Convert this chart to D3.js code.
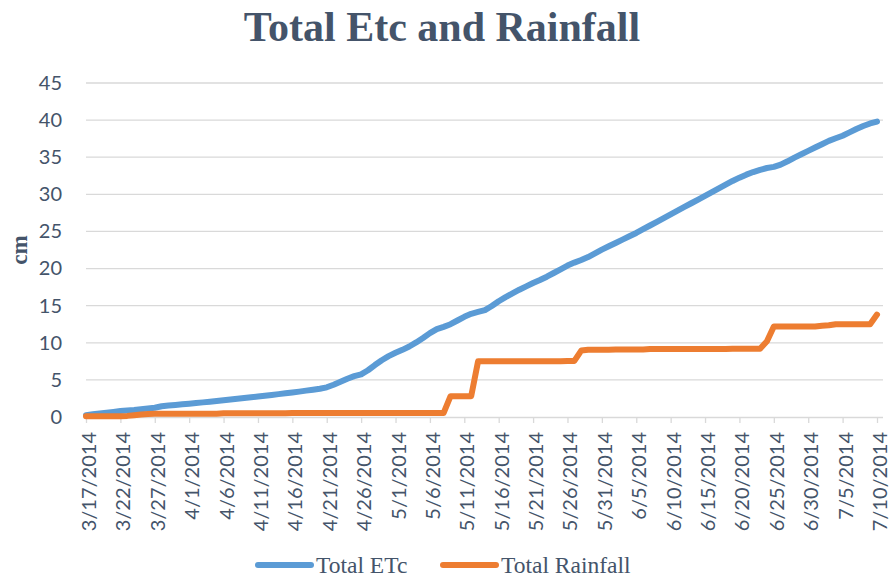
<!DOCTYPE html>
<html>
<head>
<meta charset="utf-8">
<script src="https://cdn.jsdelivr.net/npm/d3@7/dist/d3.min.js"></script>
<style>
  html, body { margin: 0; padding: 0; background: #fff; }
  svg { display: block; }
</style>
</head>
<body>
<svg id="chart" width="891" height="580"></svg>
<script>
// Daily cumulative values (cm), starting 3/17/2014
const startDate = "2014-03-17";
const etc = [
  0.25, 0.36, 0.47, 0.58, 0.69, 0.80, 0.88, 0.95, 1.05, 1.15,
  1.25, 1.45, 1.55, 1.63, 1.72, 1.80, 1.88, 1.97, 2.06, 2.15,
  2.25, 2.35, 2.45, 2.55, 2.65, 2.75, 2.86, 2.97, 3.08, 3.19,
  3.30, 3.42, 3.55, 3.68, 3.80, 4.00, 4.35, 4.75, 5.15, 5.50,
  5.75, 6.30, 7.00, 7.65, 8.20, 8.65, 9.05, 9.50, 10.05, 10.65,
  11.30, 11.85, 12.15, 12.50, 13.00, 13.50, 13.90, 14.15, 14.40, 14.95,
  15.60, 16.15, 16.65, 17.15, 17.60, 18.05, 18.45, 18.90, 19.40, 19.90,
  20.40, 20.80, 21.15, 21.55, 22.05, 22.55, 23.00, 23.45, 23.90, 24.35,
  24.80, 25.30, 25.80, 26.30, 26.80, 27.30, 27.80, 28.30, 28.80, 29.30,
  29.80, 30.30, 30.80, 31.30, 31.80, 32.25, 32.65, 33.00, 33.30, 33.55,
  33.70, 34.00, 34.45, 34.95, 35.40, 35.85, 36.30, 36.75, 37.20, 37.55,
  37.90, 38.35, 38.80, 39.20, 39.55, 39.80
];
const rainfall = [
  0.10, 0.10, 0.10, 0.10, 0.10, 0.10, 0.15, 0.25, 0.35, 0.40,
  0.45, 0.45, 0.45, 0.45, 0.45, 0.45, 0.45, 0.45, 0.45, 0.45,
  0.50, 0.50, 0.50, 0.50, 0.50, 0.50, 0.50, 0.50, 0.50, 0.50,
  0.55, 0.55, 0.55, 0.55, 0.55, 0.55, 0.55, 0.55, 0.55, 0.55,
  0.55, 0.55, 0.55, 0.55, 0.55, 0.55, 0.55, 0.55, 0.55, 0.55,
  0.55, 0.55, 0.55, 2.80, 2.80, 2.80, 2.80, 7.50, 7.50, 7.50,
  7.50, 7.50, 7.50, 7.50, 7.50, 7.50, 7.50, 7.50, 7.50, 7.50,
  7.55, 7.55, 8.95, 9.05, 9.05, 9.05, 9.05, 9.10, 9.10, 9.10,
  9.10, 9.10, 9.15, 9.15, 9.15, 9.15, 9.15, 9.15, 9.15, 9.15,
  9.15, 9.15, 9.15, 9.15, 9.20, 9.20, 9.20, 9.20, 9.20, 10.20,
  12.20, 12.20, 12.20, 12.20, 12.20, 12.20, 12.20, 12.30, 12.35, 12.50,
  12.50, 12.50, 12.50, 12.50, 12.50, 13.80
];
const yTicks = [0, 5, 10, 15, 20, 25, 30, 35, 40, 45];
const tickEvery = 5; // a date label every 5 days
const seriesNames = ["Total ETc", "Total Rainfall"];
const seriesColors = ["#5B9BD5", "#ED7D31"];

const parse = d3.timeParse("%Y-%m-%d");
const t0 = parse(startDate);
const dates = etc.map((_, i) => d3.timeDay.offset(t0, i));

const svg = d3.select("#chart");
svg.append("rect").attr("width", 891).attr("height", 580).attr("fill", "#fff");

const plotLeft = 86, lastX = 877, plotRight = 883, plotTop = 83, plotBottom = 417;

const x = d3.scaleTime().domain([dates[0], dates[dates.length - 1]]).range([plotLeft, lastX]);
const y = d3.scaleLinear().domain([0, 45]).range([plotBottom, plotTop]);

const textColor = "#44546A";
const gridColor = "#D9D9D9";

// Title
svg.append("text")
  .attr("x", 442).attr("y", 41)
  .attr("text-anchor", "middle")
  .attr("font-family", "'Liberation Serif', 'Times New Roman', serif")
  .attr("font-weight", "bold")
  .attr("font-size", 42)
  .attr("fill", textColor)
  .text("Total Etc and Rainfall");

// Horizontal gridlines
svg.append("g")
  .selectAll("line")
  .data(yTicks.filter(v => v > 0))
  .join("line")
  .attr("x1", plotLeft).attr("x2", plotRight)
  .attr("y1", d => y(d)).attr("y2", d => y(d))
  .attr("stroke", gridColor).attr("stroke-width", 1.3);

// Y axis labels
const yAxis = d3.axisLeft(y).tickValues(yTicks).tickSize(0).tickPadding(0);
const gy = svg.append("g").attr("transform", `translate(${plotLeft - 24},0)`).call(yAxis);
gy.select(".domain").remove();
gy.selectAll("text")
  .attr("font-family", "Lato, 'Open Sans', sans-serif")
  .attr("font-size", 20)
  .attr("fill", textColor);

// Y axis title
svg.append("text")
  .attr("transform", "translate(26.5,250) rotate(-90)")
  .attr("text-anchor", "middle")
  .attr("font-family", "'Liberation Serif', 'Times New Roman', serif")
  .attr("font-weight", "bold")
  .attr("font-size", 23)
  .attr("fill", textColor)
  .text("cm");

// X axis
const tickDates = dates.filter((_, i) => i % tickEvery === 0);
const fmt = d => `${d.getMonth() + 1}/${d.getDate()}/${d.getFullYear()}`;
const xAxis = d3.axisBottom(x).tickValues(tickDates).tickFormat(fmt).tickSize(6).tickSizeOuter(0);
const gx = svg.append("g").attr("transform", `translate(0,${plotBottom})`).call(xAxis);
gx.select(".domain").attr("d", `M${plotLeft},0.5H${plotRight}`).attr("stroke", gridColor).attr("stroke-width", 1.3);
gx.selectAll(".tick line").attr("stroke", gridColor).attr("stroke-width", 1.3);
gx.selectAll(".tick text")
  .attr("font-family", "Lato, 'Open Sans', sans-serif")
  .attr("font-size", 20)
  .attr("fill", textColor)
  .attr("text-anchor", "end")
  .attr("transform", "rotate(-90)")
  .attr("x", -15)
  .attr("y", 2.5)
  .attr("dy", "0.35em");

// Lines
const line = d3.line().x((d, i) => x(dates[i])).y(d => y(d));
[etc, rainfall].forEach((s, k) => {
  svg.append("path")
    .datum(s)
    .attr("d", line)
    .attr("fill", "none")
    .attr("stroke", seriesColors[k])
    .attr("stroke-width", 6)
    .attr("stroke-linejoin", "round")
    .attr("stroke-linecap", "round");
});

// Legend
const legendX = [258, 443];
seriesNames.forEach((name, k) => {
  const g = svg.append("g").attr("transform", `translate(${legendX[k]},565)`);
  g.append("line").attr("x1", 0).attr("x2", 53).attr("y1", 0).attr("y2", 0)
    .attr("stroke", seriesColors[k]).attr("stroke-width", 6).attr("stroke-linecap", "round");
  g.append("text").attr("x", 58).attr("y", 8)
    .attr("font-family", "'Liberation Serif', 'Times New Roman', serif")
    .attr("font-size", 23.5)
    .attr("fill", textColor)
    .text(name);
});
</script>
</body>
</html>
